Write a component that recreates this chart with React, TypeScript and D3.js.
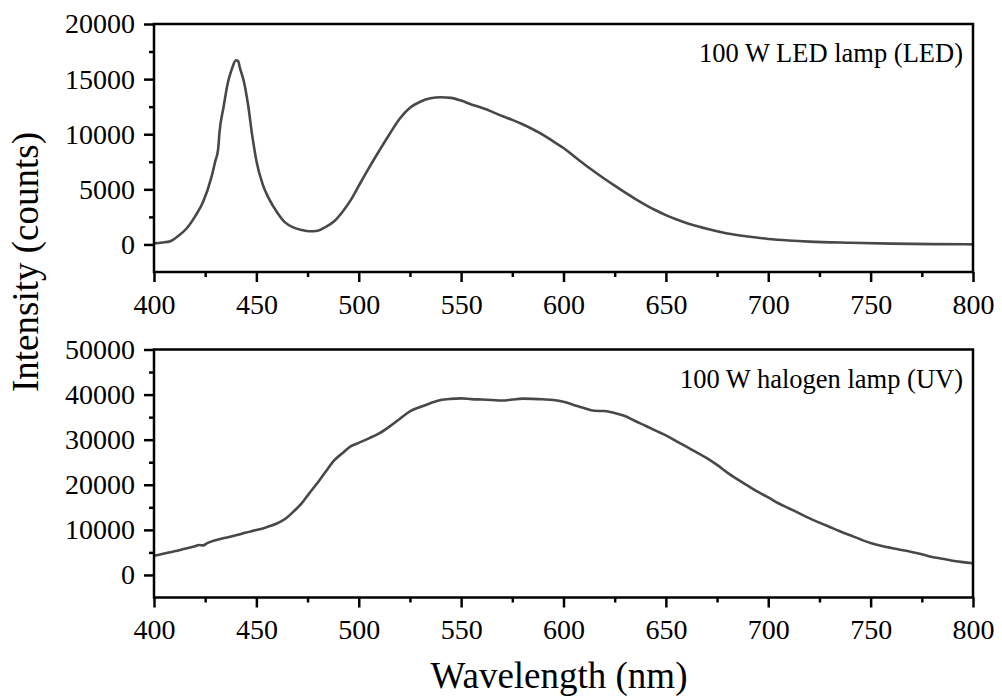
import React, { useRef, useEffect } from 'react'
import * as d3 from 'd3'

// wavelength axis (shared)
const xTicks = [400, 450, 500, 550, 600, 650, 700, 750, 800]
const xMinor = [425, 475, 525, 575, 625, 675, 725, 775]

// top panel: LED lamp
const ledTicks = [0, 5000, 10000, 15000, 20000]
const ledMinor = [2500, 7500, 12500, 17500]
const ledWl = [
  400, 404, 408, 412, 416, 420, 424, 428, 430, 431.3, 432, 434, 436, 438, 440, 441,
  442, 444, 446, 448, 450, 453, 456, 460, 464, 468, 472, 476, 480, 484, 488, 492,
  496, 500, 505, 510, 515, 520, 525, 530, 535, 540, 545, 550, 555, 560, 565, 570,
  575, 580, 585, 590, 595, 600, 605, 610, 615, 620, 625, 630, 635, 640, 645, 650,
  655, 660, 665, 670, 680, 690, 700, 710, 720, 740, 760, 780, 800
]
const ledCounts = [
  100, 180, 300, 790, 1470, 2530, 3880, 6070, 7600, 8600, 10200, 12500, 14600, 15900, 16700, 16650,
  16000, 14700, 12600, 9850, 7600, 5500, 4200, 2950, 2000, 1550, 1320, 1200, 1250, 1600, 2100, 2950,
  4000, 5320, 6950, 8500, 10000, 11400, 12400, 12950, 13270, 13360, 13300, 13050, 12700, 12400, 12050, 11650,
  11300, 10900, 10450, 9950, 9350, 8750, 8020, 7300, 6620, 5960, 5330, 4720, 4140, 3600, 3100, 2660,
  2280, 1950, 1680, 1420, 1000, 720, 500, 360, 260, 150, 70, 30, 10
]

// bottom panel: halogen lamp
const halTicks = [0, 10000, 20000, 30000, 40000, 50000]
const halMinor = [5000, 15000, 25000, 35000, 45000]
const halWl = [
  400, 405, 410, 415, 420, 422, 424, 426, 430, 435, 440, 445, 450, 455, 460, 464,
  468, 472, 476, 480, 484, 488, 492, 496, 500, 505, 510, 515, 520, 525, 530, 535,
  540, 545, 550, 555, 560, 565, 570, 575, 580, 585, 590, 595, 600, 605, 610, 615,
  620, 625, 630, 635, 640, 645, 650, 655, 660, 665, 670, 675, 680, 685, 690, 695,
  700, 705, 710, 715, 720, 725, 730, 735, 740, 745, 750, 755, 760, 765, 770, 775,
  780, 785, 790, 795, 800
]
const halCounts = [
  4250, 4750, 5250, 5800, 6350, 6650, 6550, 7050, 7700, 8250, 8800, 9400, 9950, 10600, 11400, 12400,
  14000, 15800, 18200, 20500, 23000, 25400, 27000, 28500, 29300, 30300, 31400, 32900, 34600, 36300, 37250, 38100,
  38800, 39050, 39150, 39000, 38900, 38800, 38700, 38900, 39100, 39050, 38950, 38800, 38400, 37700, 37000, 36400,
  36350, 35900, 35250, 34150, 33100, 32000, 30950, 29700, 28450, 27200, 25900, 24400, 22700, 21200, 19800, 18400,
  17200, 15900, 14800, 13700, 12600, 11600, 10650, 9700, 8800, 7900, 7100, 6500, 6000, 5550, 5100, 4600,
  4000, 3600, 3150, 2850, 2600
]

const FONT = '"Liberation Serif", "Times New Roman", serif'

export default function App() {
  const svgRef = useRef<SVGSVGElement>(null)
  const width = 1002
  const height = 700

  useEffect(() => {
    const svg = d3.select(svgRef.current)
    svg.selectAll('*').remove()

    const left = 154
    const right = 973
    const x = d3.scaleLinear().domain([400, 800]).range([left, right])

    const panels = [
      { top: 24, bottom: 272, domain: [-2500, 20000], ticks: ledTicks, minor: ledMinor,
        wl: ledWl, counts: ledCounts, label: '100 W LED lamp (LED)' },
      { top: 349.5, bottom: 597.5, domain: [-5000, 50000], ticks: halTicks, minor: halMinor,
        wl: halWl, counts: halCounts, label: '100 W halogen lamp (UV)' }
    ]

    panels.forEach(p => {
      const y = d3.scaleLinear().domain(p.domain).range([p.bottom, p.top])
      const g = svg.append('g')

      // minor ticks first, no labels
      g.append('g')
        .attr('transform', `translate(${left},0)`)
        .call(d3.axisLeft(y).tickValues(p.minor).tickSize(5).tickFormat(() => ''))
      g.append('g')
        .attr('transform', `translate(0,${p.bottom})`)
        .call(d3.axisBottom(x).tickValues(xMinor).tickSize(5).tickFormat(() => ''))

      g.append('g')
        .attr('transform', `translate(${left},0)`)
        .call(d3.axisLeft(y).tickValues(p.ticks).tickSize(10).tickPadding(9).tickFormat(d3.format('d')))
      g.append('g')
        .attr('transform', `translate(0,${p.bottom})`)
        .call(d3.axisBottom(x).tickValues(xTicks).tickSize(10).tickPadding(12).tickFormat(d3.format('d')))

      g.selectAll('.domain').remove()
      g.selectAll('.tick line').attr('stroke', '#000').attr('stroke-width', 2.5)
      g.selectAll('.tick text')
        .attr('fill', '#000')
        .style('font-family', FONT)
        .style('font-size', '28px')

      const line = d3.line<number>()
        .x((d, i) => x(p.wl[i]))
        .y(d => y(d))
        .curve(d3.curveMonotoneX)

      g.append('path')
        .attr('d', line(p.counts))
        .attr('fill', 'none')
        .attr('stroke', '#484848')
        .attr('stroke-width', 2.6)
        .attr('stroke-linejoin', 'round')

      g.append('rect')
        .attr('x', left)
        .attr('y', p.top)
        .attr('width', right - left)
        .attr('height', p.bottom - p.top)
        .attr('fill', 'none')
        .attr('stroke', '#000')
        .attr('stroke-width', 2.5)

      g.append('text')
        .attr('x', right - 10)
        .attr('y', p.top + 38)
        .attr('text-anchor', 'end')
        .style('font-family', FONT)
        .style('font-size', '26.5px')
        .text(p.label)
    })

    svg.append('text')
      .attr('transform', 'translate(38,262) rotate(-90)')
      .attr('text-anchor', 'middle')
      .style('font-family', FONT)
      .style('font-size', '37px')
      .text('Intensity (counts)')

    svg.append('text')
      .attr('x', 559)
      .attr('y', 688)
      .attr('text-anchor', 'middle')
      .style('font-family', FONT)
      .style('font-size', '37px')
      .text('Wavelength (nm)')
  }, [])

  return (
    <svg
      ref={svgRef}
      width={width}
      height={height}
      style={{ position: 'absolute', left: 0, top: 0, background: '#fff' }}
    />
  )
}
